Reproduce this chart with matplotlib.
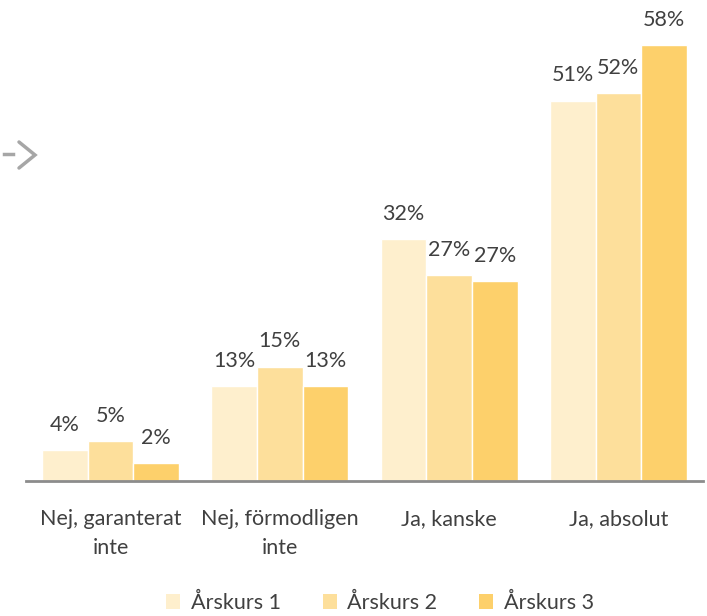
import matplotlib
matplotlib.use("Agg")
import matplotlib.pyplot as plt
import numpy as np
from matplotlib.lines import Line2D
from matplotlib.patches import Patch

categories = ["Nej, garanterat\ninte", "Nej, förmodligen\ninte", "Ja, kanske", "Ja, absolut"]
series_names = ["Årskurs 1", "Årskurs 2", "Årskurs 3"]
arskurs1 = [4.1, 12.6, 32.2, 50.6]
arskurs2 = [5.3, 15.2, 27.4, 51.6]
arskurs3 = [2.4, 12.6, 26.6, 58.0]
series = [arskurs1, arskurs2, arskurs3]
colors = ["#FEEFCD", "#FDDF9B", "#FDD06B"]

plt.rcParams['font.family'] = ['Lato', 'DejaVu Sans']

W, H = 707, 616
fig = plt.figure(figsize=(W / 100, H / 100), dpi=100)
ax = fig.add_axes([26 / W, 1 - 481 / H, (703 - 26) / W, (481 - 30) / H])

x = np.arange(len(categories))
bw = 0.27
txt = "#404040"
for i, (vals, c) in enumerate(zip(series, colors)):
    pos = x + (i - 1) * bw
    bars = ax.bar(pos, vals, width=bw, color=c, edgecolor="white", linewidth=1.0, label=series_names[i], zorder=2)
    for b, v in zip(bars, vals):
        ax.annotate(f"{v:.0f}%", (b.get_x() + b.get_width() / 2, v), xytext=(0, 11),
                    textcoords="offset points", ha="center", va="bottom",
                    fontsize=15.5, color=txt)

ax.set_xlim(-0.5, 3.5)
ax.set_ylim(0, 60)
ax.set_yticks([])
ax.set_xticks(x)
ax.set_xticklabels(categories, fontsize=15.5, color=txt, linespacing=1.55)
ax.tick_params(axis="x", length=0, pad=20)
for s in ["top", "right", "left"]:
    ax.spines[s].set_visible(False)
ax.spines["bottom"].set_color("#8C8C8C")
ax.spines["bottom"].set_linewidth(2)
ax.spines["bottom"].set_zorder(3)

handles = [Patch(facecolor=c, edgecolor="none") for c in colors]
fig.legend(handles, series_names, loc="center", bbox_to_anchor=(380 / W, 1 - 603 / H), ncol=3,
           frameon=False, fontsize=15.5, handlelength=0.65, handleheight=0.65, handletextpad=0.5,
           columnspacing=1.95, labelcolor=txt)

# decorative arrow at left
gray = "#A6A6A6"
fig.add_artist(Line2D([4 / W, 13 / W], [1 - 154 / H, 1 - 154 / H], color=gray, lw=2.5, transform=fig.transFigure))
fig.add_artist(Line2D([19 / W, 35 / W, 19 / W], [1 - 142 / H, 1 - 155 / H, 1 - 168 / H], color=gray, lw=2.5,
                      transform=fig.transFigure, solid_capstyle="round", solid_joinstyle="miter"))

fig.savefig("out.png", dpi=100)
